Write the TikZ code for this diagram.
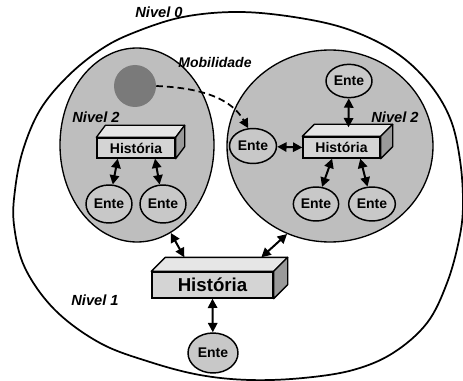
\documentclass[tikz,border=0pt]{standalone}
\usepackage{fontspec}
\setmainfont{Liberation Sans}
\usetikzlibrary{arrows.meta,calc,shapes.geometric}

\definecolor{zoneGray}{HTML}{BEBEBE}
\definecolor{enteGray}{HTML}{C8C8C8}
\definecolor{boxFront}{HTML}{D4D4D4}
\definecolor{boxTop}{HTML}{E6E6E6}
\definecolor{boxSide}{HTML}{9A9A9A}
\definecolor{moverGray}{HTML}{7A7A7A}

\tikzset{
  zone/.style={ellipse, draw=black, line width=1pt, fill=zoneGray, inner sep=0pt},
  ente/.style={ellipse, draw=black, line width=1.1pt, fill=enteGray, inner sep=0pt,
    font=\bfseries\fontsize{10.5}{12}\selectfont},
  histbox/.style={rectangle, draw=black, line width=1pt, fill=boxFront, inner sep=0pt,
    font=\bfseries\fontsize{10.5}{12}\selectfont},
  bighist/.style={histbox, font=\bfseries\fontsize{14}{16}\selectfont},
  lbl/.style={font=\bfseries\itshape\fontsize{11}{13}\selectfont, inner sep=0pt},
  dbl/.style={{Triangle[length=7pt,width=7pt]}-{Triangle[length=7pt,width=7pt]}, line width=1.5pt},
  move/.style={-{Triangle[length=7pt,width=7pt]}, line width=1.3pt, dash pattern=on 5pt off 3pt},
}

% top and right faces of a box whose front face is node #1, depth (#2,#3)
\newcommand{\boxfaces}[3]{%
  \draw[line width=1pt, fill=boxTop, line join=round] (#1.north west) -- ++(#2,#3)
    -- ($(#1.north east)+(#2,#3)$) -- (#1.north east) -- cycle;
  \draw[line width=1pt, fill=boxSide, line join=round] (#1.north east) -- ++(#2,#3)
    -- ($(#1.south east)+(#2,#3)$) -- (#1.south east) -- cycle;
}

\begin{document}
\begin{tikzpicture}[x=0.75pt, y=-0.75pt]
\useasboundingbox (0,0) rectangle (463,381);

% level 0 boundary
\draw[line width=1.3pt] plot[smooth cycle, tension=0.6] coordinates {
  (15,190) (23,150) (40,110) (67,77) (100,50) (133,33) (183,17) (240,12)
  (300,18) (350,30) (395,52) (428,82) (450,118) (460,160) (463,205)
  (459,240) (447,283) (427,323) (393,353) (353,370) (303,378) (250,380)
  (200,375) (150,362) (100,343) (55,310) (25,268) (14,225)};

% level 2 zones
\node[zone, minimum width=115.5pt, minimum height=145.5pt] (lzone) at (137,145) {};
\node[zone, minimum width=154.5pt, minimum height=144pt] (rzone) at (330,146) {};

% moving entity
\node[circle, fill=moverGray, minimum size=31.5pt, inner sep=0pt] (mover) at (135,86) {};

% history boxes
\node[histbox, minimum width=58.5pt, minimum height=15pt] (lbox) at (136,148) {};
\boxfaces{lbox}{9}{-12}
\node[font=\bfseries\fontsize{10.5}{12}\selectfont] at (lbox) {História};

\node[histbox, minimum width=57.75pt, minimum height=15.75pt] (rbox) at (341.5,147.5) {};
\boxfaces{rbox}{12}{-12}
\node[font=\bfseries\fontsize{10.5}{12}\selectfont] at (rbox) {História};

\node[bighist, minimum width=90.75pt, minimum height=19.5pt] (bbox) at (212.5,285) {};
\boxfaces{bbox}{14}{-14}
\node[font=\bfseries\fontsize{14}{16}\selectfont] at (bbox) {História};

% entities
\node[ente, minimum width=34.5pt, minimum height=28.5pt] (le1) at (109,204) {Ente};
\node[ente, minimum width=34.5pt, minimum height=28.5pt] (le2) at (163,204) {Ente};
\node[ente, minimum width=35.25pt, minimum height=26.25pt] (re0) at (253,146) {Ente};
\node[ente, minimum width=34.5pt, minimum height=25pt] (rtop) at (349,81) {Ente};
\node[ente, minimum width=34pt, minimum height=25.5pt] (rb1) at (316,204) {Ente};
\node[ente, minimum width=35pt, minimum height=25.5pt] (rb2) at (372,204) {Ente};
\node[ente, minimum width=37.5pt, minimum height=30pt] (be) at (213,353) {Ente};

% connectors
\draw[dbl] ($(lbox.south west)!0.27!(lbox.south east)$) -- (le1);
\draw[dbl] ($(lbox.south west)!0.74!(lbox.south east)$) -- (le2);
\draw[dbl] ($(rbox.south west)!0.38!(rbox.south east)$) -- (rb1);
\draw[dbl] ($(rbox.south west)!0.74!(rbox.south east)$) -- (rb2);
\coordinate (rtopface) at ($(rbox.north)+(7,-9)$);
\draw[dbl] (rtop) -- (rtopface);
\draw[dbl] (re0) -- (rbox.west);
\draw[dbl] (bbox.south) -- (be);
\coordinate (bl) at ($(bbox.north west)+(33,-14)$);
\coordinate (br) at ($(bbox.north west)+(110,-14)$);
\draw[dbl] (bl) -- (lzone.-69);
\draw[dbl] (br) -- (rzone.-116);

% mobility
\draw[move] (mover.east) .. controls (205,88) and (232,100) .. (re0.105);

% labels
\node[lbl] (n0) at (159,12) {Nivel 0};
\node[lbl] (n2l) at (96,117) {Nivel 2};
\node[lbl] (n2r) at (395,117) {Nivel 2};
\node[lbl] (n1) at (95,300) {Nivel 1};
\node[lbl, font=\bfseries\itshape\fontsize{10.5}{12}\selectfont] (mob) at (215,63) {Mobilidade};
\end{tikzpicture}
\end{document}
